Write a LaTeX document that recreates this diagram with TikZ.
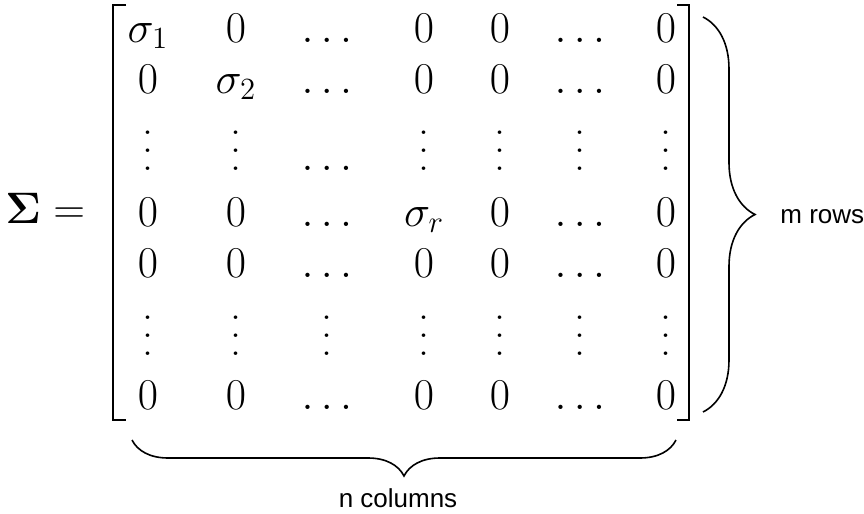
\RequirePackage{fix-cm}
\documentclass[tikz,border=0pt]{standalone}
\usepackage{amsmath}
\usepackage{amssymb}
\usepackage{fontspec}
\usepackage{tikz}
\usetikzlibrary{decorations.pathreplacing}
\newfontfamily\sidefont{Liberation Sans}
\newcommand{\tallvdots}{\vbox{\baselineskip8.8pt \lineskiplimit0pt \hbox{.}\hbox{.}\hbox{.}}}
\tikzstyle{entry}=[anchor=base,inner sep=0pt,font=\fontsize{22}{26}\selectfont]
\tikzstyle{sidetext}=[anchor=base,inner sep=0pt,font=\sidefont\fontsize{13}{15}\selectfont]
\tikzstyle{curly}=[decorate,line width=0.8pt]
\tikzstyle{bracket}=[line width=1.4pt]

\begin{document}
\begin{tikzpicture}[x=0.5pt,y=-0.5pt]
  \useasboundingbox (0,0) rectangle (864,514);
  % left hand side
  \node[entry,anchor=base west] (lhs) at (5,223) {$\boldsymbol{\Sigma} =$};
  % row 1
  \node[entry] (e11) at (148,42)  {$\sigma_1$};
  \node[entry] (e12) at (236,42)  {$0$};
  \node[entry] (e13) at (327,42)  {$\ldots$};
  \node[entry] (e14) at (424,42)  {$0$};
  \node[entry] (e15) at (500,42)  {$0$};
  \node[entry] (e16) at (580,42)  {$\ldots$};
  \node[entry] (e17) at (666,42)  {$0$};
  % row 2
  \node[entry] (e21) at (148,93)  {$0$};
  \node[entry] (e22) at (236,93)  {$\sigma_2$};
  \node[entry] (e23) at (327,93)  {$\ldots$};
  \node[entry] (e24) at (424,93)  {$0$};
  \node[entry] (e25) at (500,93)  {$0$};
  \node[entry] (e26) at (580,93)  {$\ldots$};
  \node[entry] (e27) at (666,93)  {$0$};
  % row 3
  \node[entry] (e31) at (148,170) {$\tallvdots$};
  \node[entry] (e32) at (236,170) {$\tallvdots$};
  \node[entry] (e33) at (327,170) {$\ldots$};
  \node[entry] (e34) at (424,170) {$\tallvdots$};
  \node[entry] (e35) at (500,170) {$\tallvdots$};
  \node[entry] (e36) at (580,170) {$\tallvdots$};
  \node[entry] (e37) at (666,170) {$\tallvdots$};
  % row 4
  \node[entry] (e41) at (148,226) {$0$};
  \node[entry] (e42) at (236,226) {$0$};
  \node[entry] (e43) at (327,226) {$\ldots$};
  \node[entry] (e44) at (424,226) {$\sigma_r$};
  \node[entry] (e45) at (500,226) {$0$};
  \node[entry] (e46) at (580,226) {$\ldots$};
  \node[entry] (e47) at (666,226) {$0$};
  % row 5
  \node[entry] (e51) at (148,277) {$0$};
  \node[entry] (e52) at (236,277) {$0$};
  \node[entry] (e53) at (327,277) {$\ldots$};
  \node[entry] (e54) at (424,277) {$0$};
  \node[entry] (e55) at (500,277) {$0$};
  \node[entry] (e56) at (580,277) {$\ldots$};
  \node[entry] (e57) at (666,277) {$0$};
  % row 6
  \node[entry] (e61) at (148,355) {$\tallvdots$};
  \node[entry] (e62) at (236,355) {$\tallvdots$};
  \node[entry] (e63) at (327,355) {$\tallvdots$};
  \node[entry] (e64) at (424,355) {$\tallvdots$};
  \node[entry] (e65) at (500,355) {$\tallvdots$};
  \node[entry] (e66) at (580,355) {$\tallvdots$};
  \node[entry] (e67) at (666,355) {$\tallvdots$};
  % row 7
  \node[entry] (e71) at (148,409) {$0$};
  \node[entry] (e72) at (236,409) {$0$};
  \node[entry] (e73) at (327,409) {$\ldots$};
  \node[entry] (e74) at (424,409) {$0$};
  \node[entry] (e75) at (500,409) {$0$};
  \node[entry] (e76) at (580,409) {$\ldots$};
  \node[entry] (e77) at (666,409) {$0$};
  % brackets
  \draw[bracket] (126,5) -- (113,5) -- (113,420) -- (126,420);
  \draw[bracket] (677,5) -- (689,5) -- (689,420) -- (677,420);
  % braces
  \coordinate (rtop) at (703,17);
  \coordinate (rbot) at (703,412);
  \coordinate (bright) at (676,440);
  \coordinate (bleft) at (132,440);
  \draw[curly,decoration={brace,amplitude=26pt}] (rtop) -- (rbot);
  \draw[curly,decoration={brace,amplitude=18pt}] (bright) -- (bleft);
  \node[sidetext,anchor=base west] (mrows) at (780,223) {m rows};
  \node[sidetext] (ncols) at (398,507) {n columns};
\end{tikzpicture}
\end{document}
